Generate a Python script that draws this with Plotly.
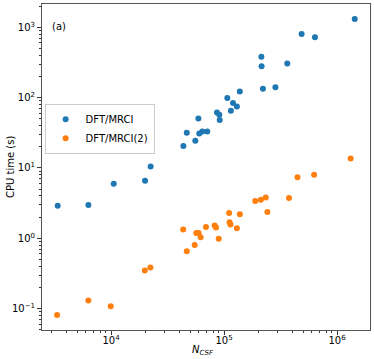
import plotly.graph_objects as go

# DFT/MRCI timings
mrci_ncsf = [3370, 6300, 10570, 20000, 22400, 43700, 46800, 55700, 59300, 60400,
             64300, 71100, 86600, 90800, 91600, 107000, 115000, 120000, 130000, 138000,
             214000, 215000, 221000, 285000, 363000, 486000, 638000, 1435000]
mrci_time = [2.89, 2.98, 5.94, 6.6, 10.5, 20.6, 31.6, 24.3, 50.7, 31.0,
             33.1, 33.1, 61.7, 57.0, 47.9, 98.6, 65.0, 83.6, 75.0, 122.7,
             382, 279, 133.6, 141, 307, 803, 722, 1313]

# DFT/MRCI(2) timings
mrci2_ncsf = [3330, 6300, 9940, 19900, 22300, 43500, 46800, 55000, 56800, 59600,
              62100, 69200, 82600, 84900, 89700, 111000, 112000, 114000, 130000, 138000,
              189000, 212000, 234000, 242000, 376000, 447000, 627000, 1320000]
mrci2_time = [0.081, 0.130, 0.108, 0.347, 0.383, 1.33, 0.655, 0.80, 1.19, 1.19,
              1.03, 1.45, 1.52, 1.42, 0.98, 2.28, 1.69, 1.57, 1.39, 2.20,
              3.40, 3.52, 3.80, 2.37, 3.75, 7.4, 7.98, 13.6]

sup = {-1: "\u22121", 0: "0", 1: "1", 2: "2", 3: "3", 4: "4", 5: "5", 6: "6"}
FONT = dict(family="DejaVu Sans", size=10, color="black")

def minor_vals(lo, hi):
    return [m * 10 ** k for k in range(lo, hi) for m in range(2, 10)]

fig = go.Figure()
fig.add_trace(go.Scatter(x=mrci_ncsf, y=mrci_time, mode="markers", name="DFT/MRCI",
                         marker=dict(color="#1f77b4", size=6)))
fig.add_trace(go.Scatter(x=mrci2_ncsf, y=mrci2_time, mode="markers", name="DFT/MRCI(2)",
                         marker=dict(color="#ff7f0e", size=6)))

axis_common = dict(
    type="log", showgrid=False, zeroline=False, automargin=False,
    showline=True, linecolor="#555", linewidth=1, mirror=True,
    ticks="outside", ticklen=4, tickcolor="#333", tickwidth=1,
    tickfont=FONT,
)

fig.update_xaxes(
    **axis_common,
    range=[3.389, 6.292], ticklabelstandoff=-3,
    tickvals=[1e4, 1e5, 1e6], ticktext=["10<sup>%s</sup>" % sup[k] for k in (4, 5, 6)],
    minor=dict(tickvals=minor_vals(3, 7), ticks="outside", ticklen=2, tickcolor="#333"),
)
fig.update_yaxes(
    **axis_common,
    range=[-1.305, 3.332],
    tickvals=[0.1, 1, 10, 100, 1000],
    ticktext=["10<sup>%s</sup>" % sup[k] for k in (-1, 0, 1, 2, 3)],
    minor=dict(tickvals=minor_vals(-2, 4), ticks="outside", ticklen=2, tickcolor="#333"),
)

L, R, T, B = 42, 4, 4, 29
pw, ph = 374 - L - R, 359 - T - B

# axis titles and panel label, placed by pixel position
fig.add_annotation(x=(203 - L) / pw, y=(359 - B - 350) / ph, xref="paper", yref="paper",
                   text="<i>N</i><sub><i>CSF</i></sub>", showarrow=False, font=FONT,
                   xanchor="center", yanchor="middle")
fig.add_annotation(x=(10 - L) / pw, y=0.5, xref="paper", yref="paper", text="CPU time (s)",
                   showarrow=False, font=FONT, textangle=-90,
                   xanchor="center", yanchor="middle")
fig.add_annotation(x=0.025, y=0.93, xref="paper", yref="paper", text="(a)",
                   showarrow=False, xanchor="left", yanchor="middle", font=FONT)

fig.update_layout(
    width=374, height=359,
    margin=dict(l=L, r=R, t=T, b=B),
    plot_bgcolor="white", paper_bgcolor="white",
    legend=dict(x=0.008, y=0.694, xanchor="left", yanchor="top",
                bgcolor="white", bordercolor="#ccc", borderwidth=1,
                font=FONT, tracegroupgap=0, itemwidth=30),
)

fig.write_html("out.html", config={"displayModeBar": False},
               post_script="document.body.style.margin='0';")
